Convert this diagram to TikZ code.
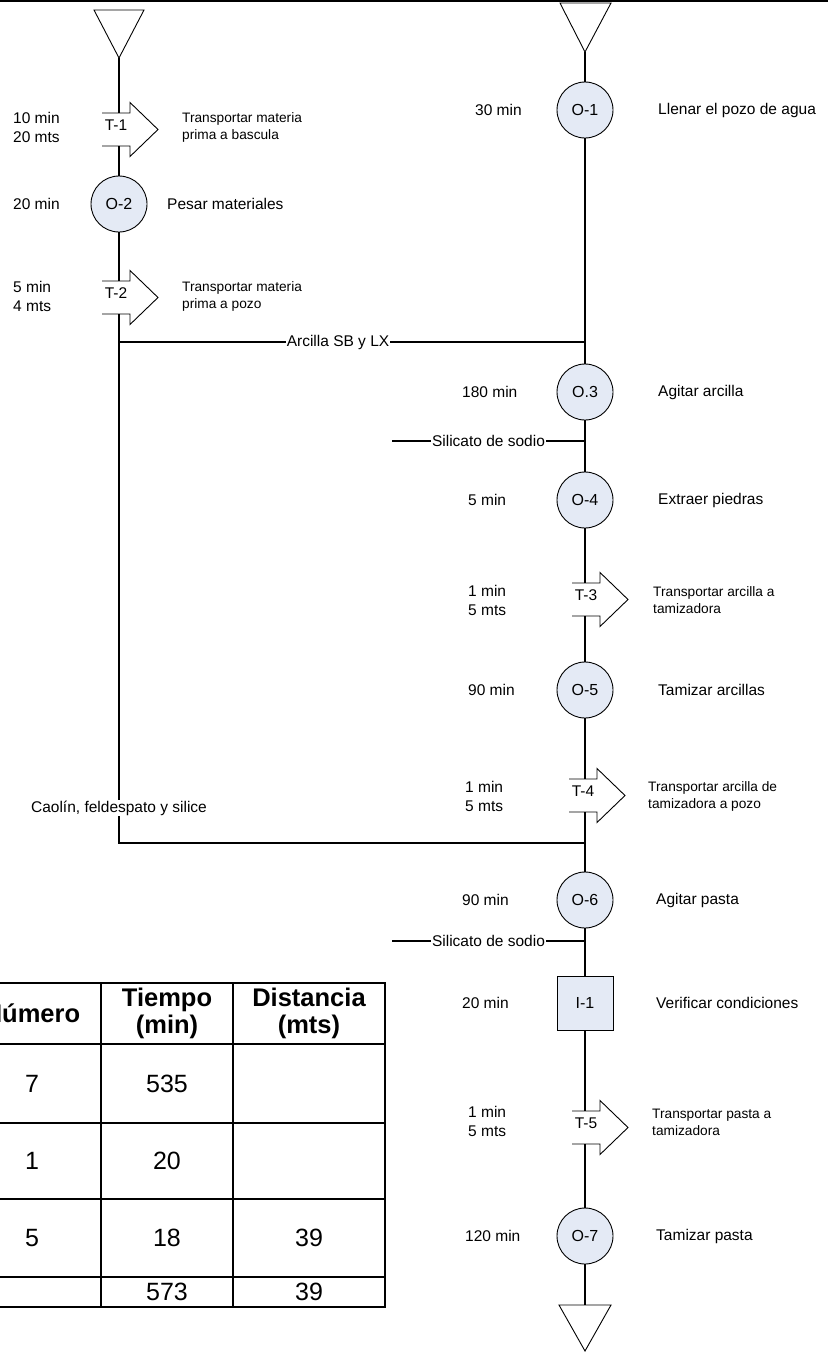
\documentclass[tikz,border=0pt]{standalone}
\usepackage{fontspec}
\setmainfont{Liberation Sans}
\definecolor{opfill}{RGB}{228,234,245}

\begin{document}
\begin{tikzpicture}[x=1pt,y=-1pt,
  flow/.style={line width=1.1pt},
  sym/.style={line width=0.9pt},
  opnode/.style={circle, draw, line width=0.9pt, fill=opfill, minimum size=56pt,
    inner sep=0pt, font=\fontsize{16}{18}\selectfont},
  inspnode/.style={rectangle, draw, line width=0.9pt, fill=opfill, minimum width=56pt,
    minimum height=54pt, inner sep=0pt, font=\fontsize{16}{18}\selectfont},
  lbl/.style={anchor=west, inner sep=0pt, align=left, font=\fontsize{15.5}{19}\selectfont},
  desc/.style={anchor=west, inner sep=0pt, align=left, font=\fontsize{13.7}{17}\selectfont},
  tlabel/.style={inner sep=0pt, font=\fontsize{15.5}{17}\selectfont},
  online/.style={fill=white, inner sep=1pt, font=\fontsize{15.5}{18}\selectfont},
  tbl/.style={line width=1.6pt},
  thead/.style={align=center, inner sep=0pt, font=\fontsize{25.5}{27}\selectfont\bfseries},
  tcell/.style={inner sep=0pt, font=\fontsize{25}{28}\selectfont},
  pics/transport/.style={code={
    \filldraw[sym, fill=white] (0,0) -- (28,0) -- (28,-10.5) -- (56,16.5)
      -- (28,43.5) -- (28,33) -- (0,33);
    \coordinate (-top) at (0,0);
    \coordinate (-bot) at (0,33);
    \node[tlabel] (-lab) at (14,12) {#1};
  }}
]
\useasboundingbox (0,0) rectangle (828,1352);
\clip (0,0) rectangle (828,1352);

% page rule
\draw[line width=2pt] (0,1) -- (828,1);

% ---------- left column: raw materials ----------
\coordinate (tri1) at (119,58);
\draw[sym] (94,10) -- (144,10) -- (tri1) -- cycle;

\pic (t1) at (102,113) {transport=T-1};
\node[opnode] (o2) at (119,204) {O-2};
\pic (t2) at (102,281) {transport=T-2};

\coordinate (j1) at (119,342);
\coordinate (j2) at (119,843);

\node[lbl] (t1time) at (13,127.5) {10 min\\20 mts};
\node[desc] (t1desc) at (182,127.5) {Transportar materia\\prima a bascula};
\node[lbl] (o2time) at (13,204) {20 min};
\node[lbl] (o2desc) at (167,204) {Pesar materiales};
\node[lbl] (t2time) at (13,296) {5 min\\4 mts};
\node[desc] (t2desc) at (182,296) {Transportar materia\\prima a pozo};

% ---------- right column: main process ----------
\coordinate (tri2) at (585,52);
\draw[sym] (560,3) -- (611,3) -- (tri2) -- cycle;

\node[opnode] (o1) at (585,110) {O-1};
\node[opnode] (o3) at (585,392) {O.3};
\node[opnode] (o4) at (585,500) {O-4};
\pic (t3) at (572,583) {transport=T-3};
\node[opnode] (o5) at (585,690) {O-5};
\pic (t4) at (569,779) {transport=T-4};
\node[opnode] (o6) at (585,900) {O-6};
\node[inspnode] (i1) at (585,1003) {I-1};
\pic (t5) at (572,1111) {transport=T-5};
\node[opnode] (o7) at (585,1236) {O-7};

\coordinate (tri3) at (585,1305);
\draw[sym] (559,1305) -- (611,1305) -- (585,1351) -- cycle;

\coordinate (sil1) at (392,441);
\coordinate (sil2) at (392,941);

\node[lbl] (o1time) at (475,110) {30 min};
\node[lbl] (o1desc) at (658,110) {Llenar el pozo de agua};
\node[lbl] (o3time) at (462,392) {180 min};
\node[lbl] (o3desc) at (658,392) {Agitar arcilla};
\node[lbl] (o4time) at (468,500) {5 min};
\node[lbl] (o4desc) at (658,500) {Extraer piedras};
\node[lbl] (t3time) at (468,600) {1 min\\5 mts};
\node[desc] (t3desc) at (653,600) {Transportar arcilla a\\tamizadora};
\node[lbl] (o5time) at (468,690) {90 min};
\node[lbl] (o5desc) at (658,690) {Tamizar arcillas};
\node[lbl] (t4time) at (465,796) {1 min\\5 mts};
\node[desc] (t4desc) at (648,796) {Transportar arcilla de\\tamizadora a pozo};
\node[lbl] (o6time) at (462,900) {90 min};
\node[lbl] (o6desc) at (656,900) {Agitar pasta};
\node[lbl] (i1time) at (462,1003) {20 min};
\node[lbl] (i1desc) at (656,1003) {Verificar condiciones};
\node[lbl] (t5time) at (468,1121) {1 min\\5 mts};
\node[desc] (t5desc) at (652,1122) {Transportar pasta a\\tamizadora};
\node[lbl] (o7time) at (465,1236) {120 min};
\node[lbl] (o7desc) at (656,1236) {Tamizar pasta};

% ---------- connectors ----------
\draw[flow] (tri1) -- (tri1 |- t1-top);
\draw[flow] (o2 |- t1-bot) -- (o2.north);
\draw[flow] (o2.south) -- (o2 |- t2-top);
\draw[flow] (j2 |- t2-bot) -- (j2) -- (j2 -| o6);
\draw[flow] (j1) -- node[online, pos=0.47] (arc) {Arcilla SB y LX} (j1 -| o1);
\node[online] (caol) at (119,808) {Caolín, feldespato y silice};

\draw[flow] (tri2) -- (o1.north);
\draw[flow] (o1.south) -- (o3.north);
\draw[flow] (o3.south) -- (o4.north);
\draw[flow] (sil1) -- node[online] (sil1lab) {Silicato de sodio} (sil1 -| o3);
\draw[flow] (o4.south) -- (o4 |- t3-top);
\draw[flow] (o5 |- t3-bot) -- (o5.north);
\draw[flow] (o5.south) -- (o5 |- t4-top);
\draw[flow] (o6 |- t4-bot) -- (o6.north);
\draw[flow] (o6.south) -- (i1.north);
\draw[flow] (sil2) -- node[online] (sil2lab) {Silicato de sodio} (sil2 -| o6);
\draw[flow] (i1.south) -- (i1 |- t5-top);
\draw[flow] (o7 |- t5-bot) -- (o7.north);
\draw[flow] (o7.south) -- (tri3);

% ---------- summary table ----------
\draw[tbl] (-37,983) rectangle (385,1307);
\foreach \yy in {1044,1123,1199,1277} \draw[tbl] (-37,\yy) -- (385,\yy);
\foreach \xx in {101,233} \draw[tbl] (\xx,983) -- (\xx,1307);

\node[thead] (hnum) at (32,1013.5) {Número};
\node[thead] (htime) at (167,1013.5) {Tiempo\\(min)};
\node[thead] (hdist) at (309,1013.5) {Distancia\\(mts)};

\node[tcell] (n1) at (32,1083.5) {7};
\node[tcell] (m1) at (167,1083.5) {535};
\node[tcell] (n2) at (32,1161) {1};
\node[tcell] (m2) at (167,1161) {20};
\node[tcell] (n3) at (32,1238) {5};
\node[tcell] (m3) at (167,1238) {18};
\node[tcell] (d3) at (309,1238) {39};
\node[tcell] (mt) at (167,1292) {573};
\node[tcell] (dt) at (309,1292) {39};
\end{tikzpicture}
\end{document}
